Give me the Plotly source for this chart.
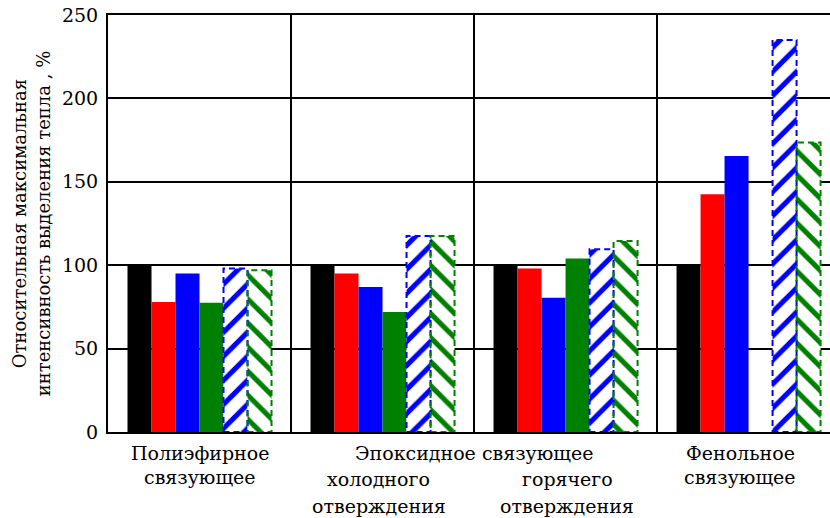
import plotly.graph_objects as go

categories = ["Полиэфирное связующее", "Эпоксидное холодного отверждения",
              "Эпоксидное горячего отверждения", "Фенольное связующее"]
series_names = ["Серия 1", "Серия 2", "Серия 3", "Серия 4", "Серия 5", "Серия 6"]
s1 = [100, 100, 100, 100]
s2 = [78, 95, 98, 142.5]
s3 = [95, 87, 80.5, 165.5]
s4 = [77.5, 72, 104, None]
s5 = [98, 117.5, 109.5, 235]
s6 = [97, 117.5, 114.5, 173.5]
series = [s1, s2, s3, s4, s5, s6]
colors = ["#000000", "#ff0000", "#0000ff", "#008000", "#0000ff", "#008000"]
patterns = [None, None, None, None, "/", "\\"]

# category-axis label lines: (text, x in category units, baseline offset below axis in px)
label_lines = [
    ("Полиэфирное", 0.0, 29),
    ("связующее", 0.0, 53),
    ("Эпоксидное связующее", 1.5, 29),
    ("холодного", 0.98, 55),
    ("отверждения", 0.98, 82),
    ("горячего", 2.01, 55),
    ("отверждения", 2.01, 82),
    ("Фенольное", 2.955, 29),
    ("связующее", 2.955, 53),
]
yticks = [0, 50, 100, 150, 200, 250]
y_title = "Относительная максимальная<br>интенсивность выделения тепла , %"

FONT = "DejaVu Serif"
bargap = 0.213

fig = go.Figure()
for name, vals, col, pat in zip(series_names, series, colors, patterns):
    if pat is None:
        marker = dict(color=col, line=dict(width=0))
    else:
        marker = dict(color="white", line=dict(width=0),
                      pattern=dict(shape=pat, fgcolor=col, bgcolor="white",
                                   size=17, solidity=0.3, fillmode="replace"))
    fig.add_trace(go.Bar(x=categories, y=vals, name=name, marker=marker,
                         showlegend=False))

n = len(series)
w = (1 - bargap) / n
for j, (vals, col, pat) in enumerate(zip(series, colors, patterns)):
    if pat is None:
        continue
    for i, v in enumerate(vals):
        if v is None:
            continue
        left = i - (1 - bargap) / 2 + j * w
        fig.add_shape(type="rect", xref="x", yref="y", x0=left, x1=left + w,
                      y0=0, y1=v, line=dict(color=col, width=2, dash="6px,4px"),
                      fillcolor="rgba(0,0,0,0)", layer="above")

for text, xpos, base in label_lines:
    fig.add_annotation(text=text, x=xpos, xref="x", y=0, yref="paper",
                       yanchor="top", yshift=-(base - 21), showarrow=False,
                       font=dict(family=FONT, size=19, color="black"),
                       align="center")

fig.update_layout(
    width=830, height=518,
    margin=dict(l=108, r=0, t=15, b=86),
    barmode="group", bargap=bargap, bargroupgap=0,
    plot_bgcolor="white", paper_bgcolor="white",
    font=dict(family=FONT, size=18, color="black"),
    xaxis=dict(type="category", range=[-0.5, 3.445], showticklabels=False,
               tickson="boundaries", showgrid=True, gridcolor="black",
               gridwidth=1.5, ticks="", showline=True, linecolor="black",
               linewidth=2, mirror=True, zeroline=False),
    yaxis=dict(range=[0, 250], tickvals=yticks, showgrid=True,
               gridcolor="black", gridwidth=1.5, ticks="", showline=True,
               linecolor="black", linewidth=2, mirror=False, zeroline=False,
               ticklabelstandoff=4, tickfont=dict(family=FONT, size=19),
               title=dict(text=y_title, font=dict(family=FONT, size=18),
                          standoff=7)),
)

fig.write_html("out.html")
